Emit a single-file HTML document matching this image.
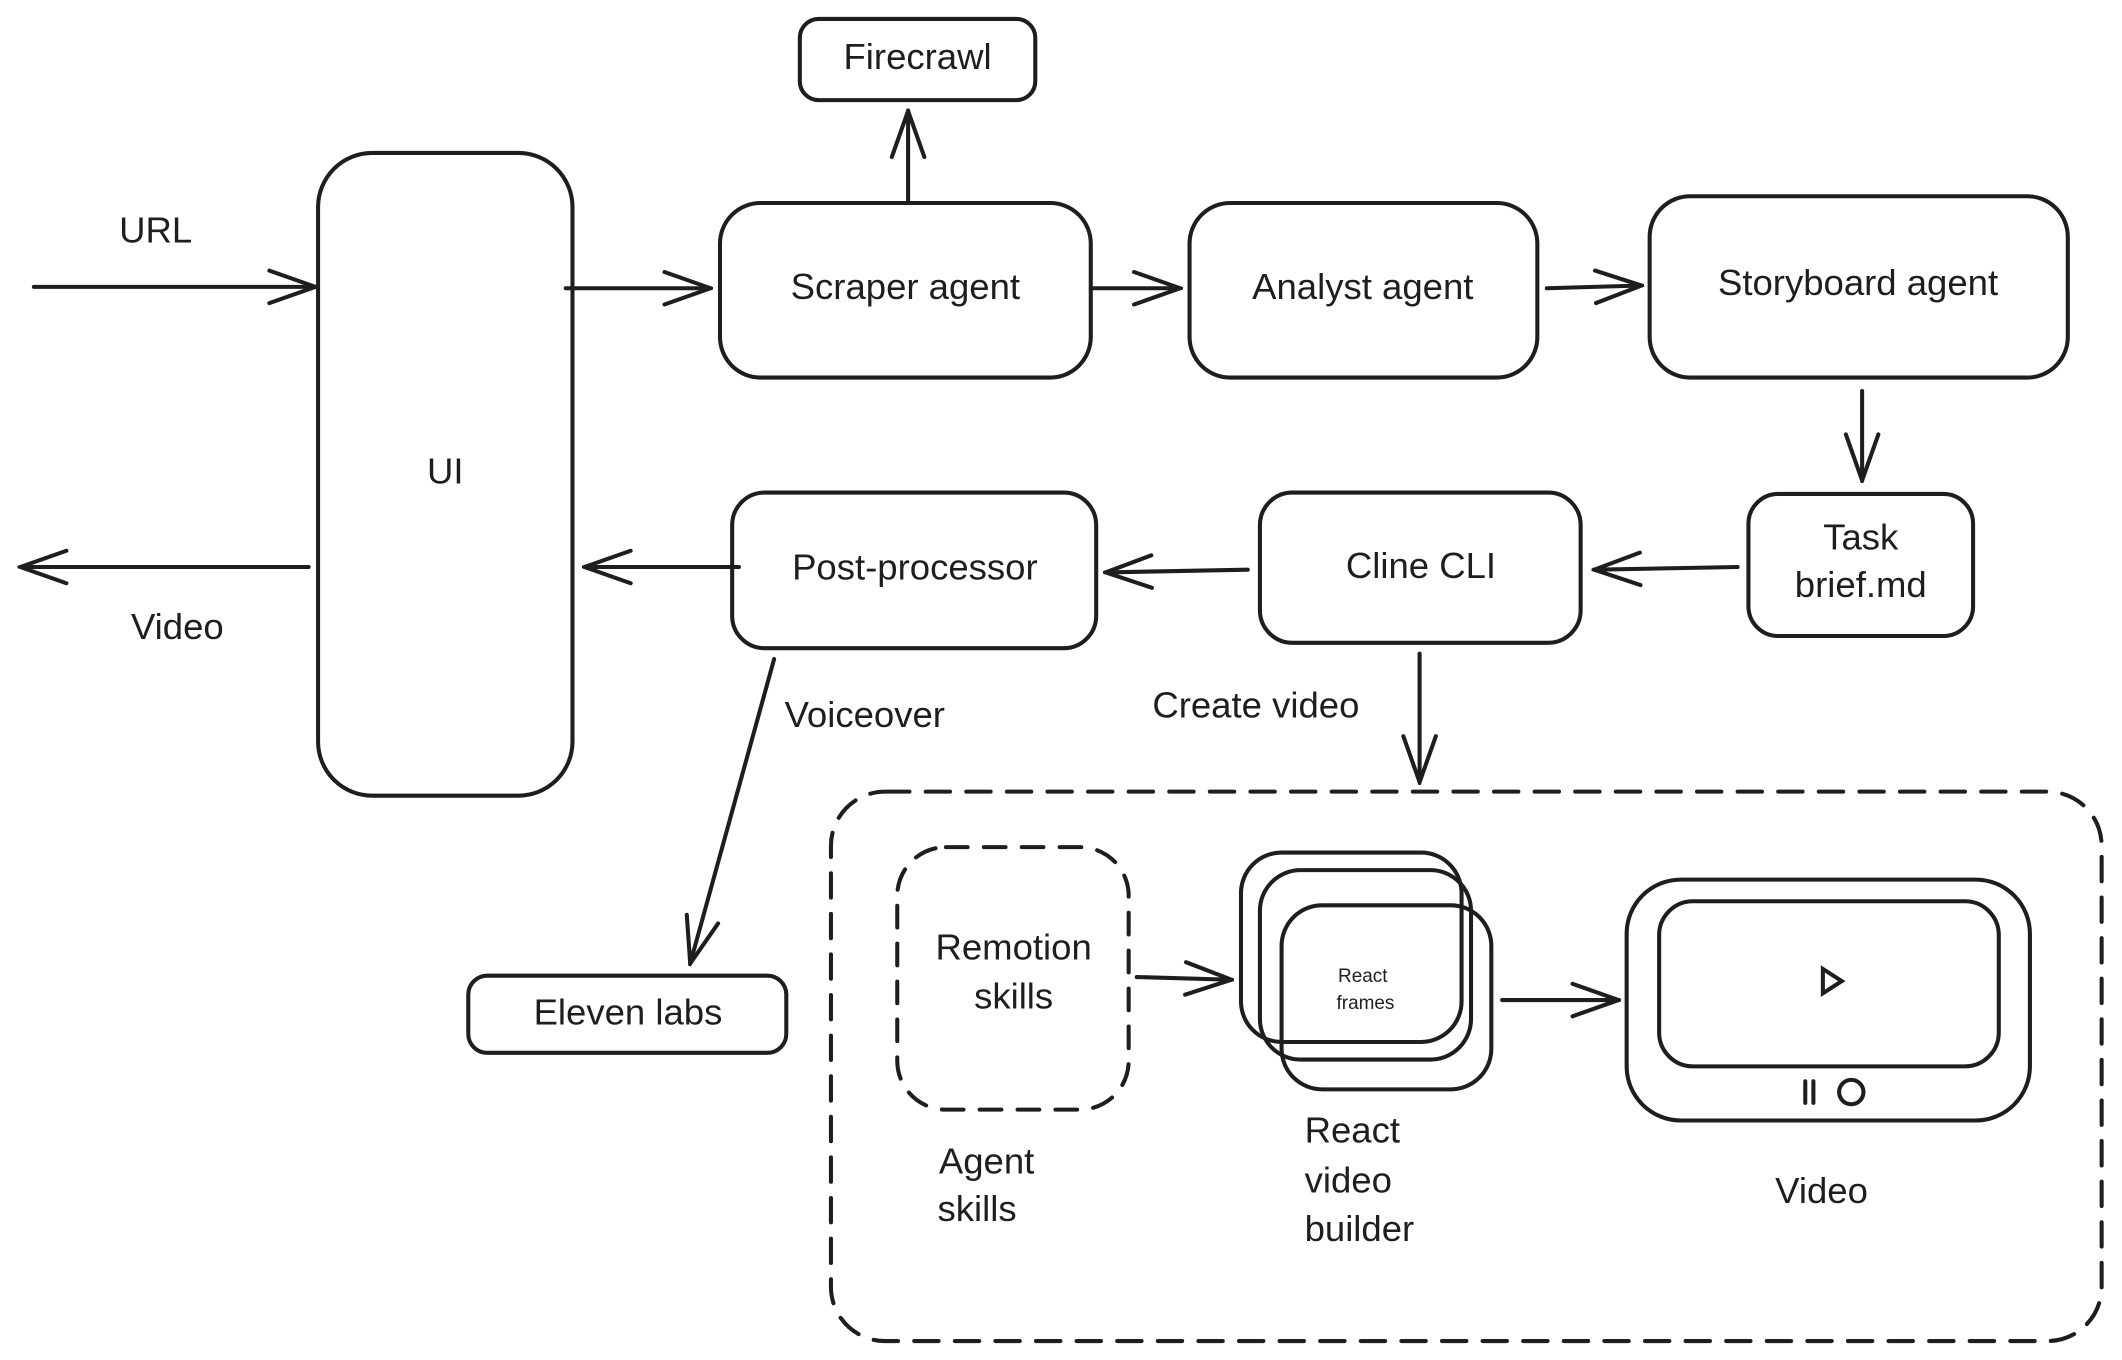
<!DOCTYPE html>
<html><head><meta charset="utf-8"><style>
html,body{margin:0;padding:0;background:#fff;}
svg{display:block;}
text{font-family:"Liberation Sans",sans-serif;fill:#1e1e1e;text-anchor:middle;dominant-baseline:middle;}
</style></head><body>
<svg width="2122" height="1360" viewBox="0 0 1568 1005" xmlns="http://www.w3.org/2000/svg">
<defs>
<marker id="b" viewBox="0 0 40 30" refX="38" refY="15" markerWidth="40" markerHeight="30" markerUnits="userSpaceOnUse" orient="auto">
<path d="M4,3 L38,15 L4,27" fill="none" stroke="#1e1e1e" stroke-width="3" stroke-linecap="round"/>
</marker>
</defs>
<g fill="none" stroke="#1e1e1e" stroke-width="3" stroke-linecap="round">
<rect x="591" y="14" width="174" height="60" rx="14"/>
<rect x="235" y="113" width="188" height="475" rx="40"/>
<rect x="532" y="150" width="274" height="129" rx="30"/>
<rect x="879" y="150" width="257" height="129" rx="30"/>
<rect x="1219" y="145" width="309" height="134" rx="30"/>
<rect x="1292" y="365" width="166" height="105" rx="22"/>
<rect x="931" y="364" width="237" height="111" rx="24"/>
<rect x="541" y="364" width="269" height="115" rx="24"/>
<rect x="346" y="721" width="235" height="57" rx="14"/>
<rect x="614" y="585" width="939" height="406" rx="40" stroke-dasharray="18 12"/>
<rect x="663" y="626" width="171" height="194" rx="36" stroke-dasharray="16 12"/>
<rect x="917" y="630" width="163" height="140" rx="30"/>
<rect x="931" y="643" width="156" height="140" rx="30"/>
<rect x="947" y="669" width="155" height="136" rx="30"/>
<rect x="1202" y="650" width="298" height="178" rx="40"/>
<rect x="1226" y="666" width="251" height="122" rx="25"/>
<path d="M1347,716 L1361,725 L1347,734 Z"/>
<path d="M1334,799 V815 M1340,799 V815"/>
<circle cx="1368" cy="807" r="9"/>
<g stroke-width="3">
<path d="M671,150 V82" marker-end="url(#b)"/>
<path d="M25,212 H233" marker-end="url(#b)"/>
<path d="M418,213 H525" marker-end="url(#b)"/>
<path d="M806,213 H872" marker-end="url(#b)"/>
<path d="M1143,213 L1213,211" marker-end="url(#b)"/>
<path d="M1376,289 V355" marker-end="url(#b)"/>
<path d="M1284,419 L1178,421" marker-end="url(#b)"/>
<path d="M922,421 L817,423" marker-end="url(#b)"/>
<path d="M546,419 H432" marker-end="url(#b)"/>
<path d="M228,419 H15" marker-end="url(#b)"/>
<path d="M572,487 L510,712" marker-end="url(#b)"/>
<path d="M1049,483 V578" marker-end="url(#b)"/>
<path d="M840,722 L910,724" marker-end="url(#b)"/>
<path d="M1110,739 H1196" marker-end="url(#b)"/>
</g>
</g>
<g font-size="27">
<text x="678" y="44">Firecrawl</text>
<text x="115" y="172">URL</text>
<text x="329" y="350">UI</text>
<text x="669" y="214">Scraper agent</text>
<text x="1007" y="214">Analyst agent</text>
<text x="1373" y="211">Storyboard agent</text>
<text x="1375" y="399">Task</text>
<text x="1375" y="434">brief.md</text>
<text x="1050" y="420">Cline CLI</text>
<text x="676" y="421">Post-processor</text>
<text x="131" y="465">Video</text>
<text x="639" y="530">Voiceover</text>
<text x="928" y="523">Create video</text>
<text x="464" y="750">Eleven labs</text>
<text x="749" y="702">Remotion</text>
<text x="749" y="738">skills</text>
<text x="729" y="860">Agent</text>
<text x="722" y="895">skills</text>
<text x="964" y="837" style="text-anchor:start">React</text>
<text x="964" y="874" style="text-anchor:start">video</text>
<text x="964" y="910" style="text-anchor:start">builder</text>
<text x="1346" y="882">Video</text>
<text x="1007" y="722" font-size="14">React</text>
<text x="1009" y="742" font-size="14">frames</text>
</g>
</svg>
</body></html>
